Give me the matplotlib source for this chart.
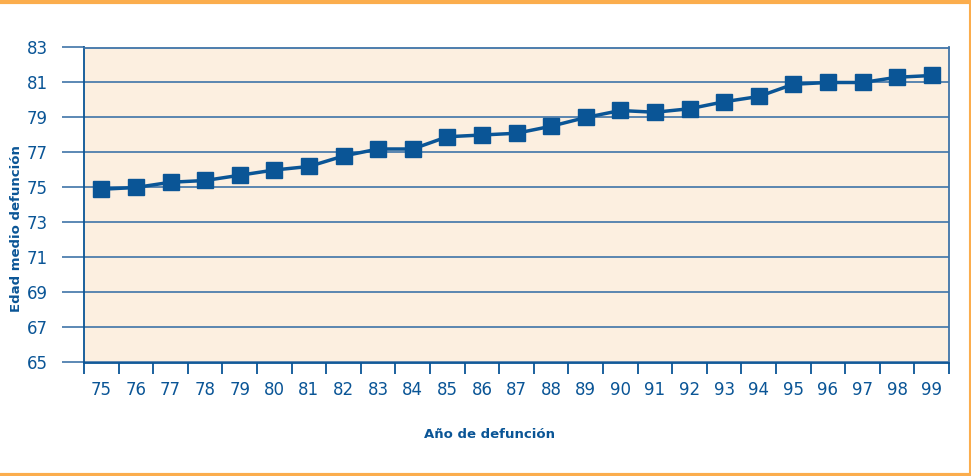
import matplotlib
matplotlib.use("Agg")
import matplotlib.pyplot as plt
from matplotlib.lines import Line2D

years = ["75", "76", "77", "78", "79", "80", "81", "82", "83", "84", "85", "86",
         "87", "88", "89", "90", "91", "92", "93", "94", "95", "96", "97", "98", "99"]
edad = [74.9, 75.0, 75.3, 75.4, 75.7, 76.0, 76.2, 76.8, 77.2, 77.2, 77.9, 78.0,
        78.1, 78.5, 79.0, 79.4, 79.3, 79.5, 79.9, 80.2, 80.9, 81.0, 81.0, 81.3, 81.4]
y_ticks = [65, 67, 69, 71, 73, 75, 77, 79, 81, 83]

blue = "#0a5596"
grid_blue = "#3f74a8"
peach = "#fcefe0"
orange = "#fbad4d"

plt.rcParams['font.family'] = ['DejaVu Sans']

fig = plt.figure(figsize=(9.71, 4.76), dpi=100)
ax = fig.add_axes([84 / 971, 1 - 362.5 / 476, 865 / 971, 315 / 476])
ax.set_facecolor(peach)

x = list(range(len(years)))
ax.plot(x, edad, color=blue, lw=2.5, marker="s", markersize=11.5,
        markerfacecolor=blue, markeredgecolor=blue, zorder=3)

ax.set_xlim(-0.5, len(years) - 0.5)
ax.set_ylim(65, 83)
ax.set_yticks(y_ticks)
ax.set_yticklabels([str(v) for v in y_ticks], fontsize=12, color=blue,
                   fontweight="medium")
ax.yaxis.grid(True, color=grid_blue, lw=1.2)
ax.set_axisbelow(True)

# category ticks on the boundaries, labels at the centres
ax.set_xticks([i - 0.5 for i in range(len(years) + 1)])
ax.set_xticklabels([])
ax.set_xticks(x, minor=True)
ax.set_xticklabels(years, minor=True, fontsize=12, color=blue, fontweight="medium")
ax.tick_params(axis="x", which="major", direction="out", length=8, width=1.3,
               color=blue)
ax.tick_params(axis="x", which="minor", length=0, pad=13)
ax.tick_params(axis="y", direction="out", length=16, width=1.2, color=grid_blue,
               pad=10)

for side in ["left", "bottom", "right", "top"]:
    ax.spines[side].set_color(grid_blue)
    ax.spines[side].set_linewidth(1.3)
ax.spines["left"].set_color(blue)
ax.spines["bottom"].set_color(blue)

fig.text(490 / 971, 1 - 435 / 476, "Año de defunción", ha="center", va="center",
         fontsize=9.5, fontweight="bold", color=blue)
fig.text(17 / 971, 1 - 229 / 476, "Edad medio defunción", ha="center", va="center",
         rotation=90, fontsize=9.5, fontweight="bold", color=blue)

# orange frame lines
fig.add_artist(Line2D([0, 1], [1 - 1.5 / 476, 1 - 1.5 / 476], color=orange, lw=3,
                      transform=fig.transFigure))
fig.add_artist(Line2D([0, 1], [1.5 / 476, 1.5 / 476], color=orange, lw=3,
                      transform=fig.transFigure))
fig.add_artist(Line2D([969.5 / 971, 969.5 / 971], [0, 1], color=orange, lw=1.5,
                      transform=fig.transFigure))

fig.savefig("out.png", dpi=100, facecolor="white")
